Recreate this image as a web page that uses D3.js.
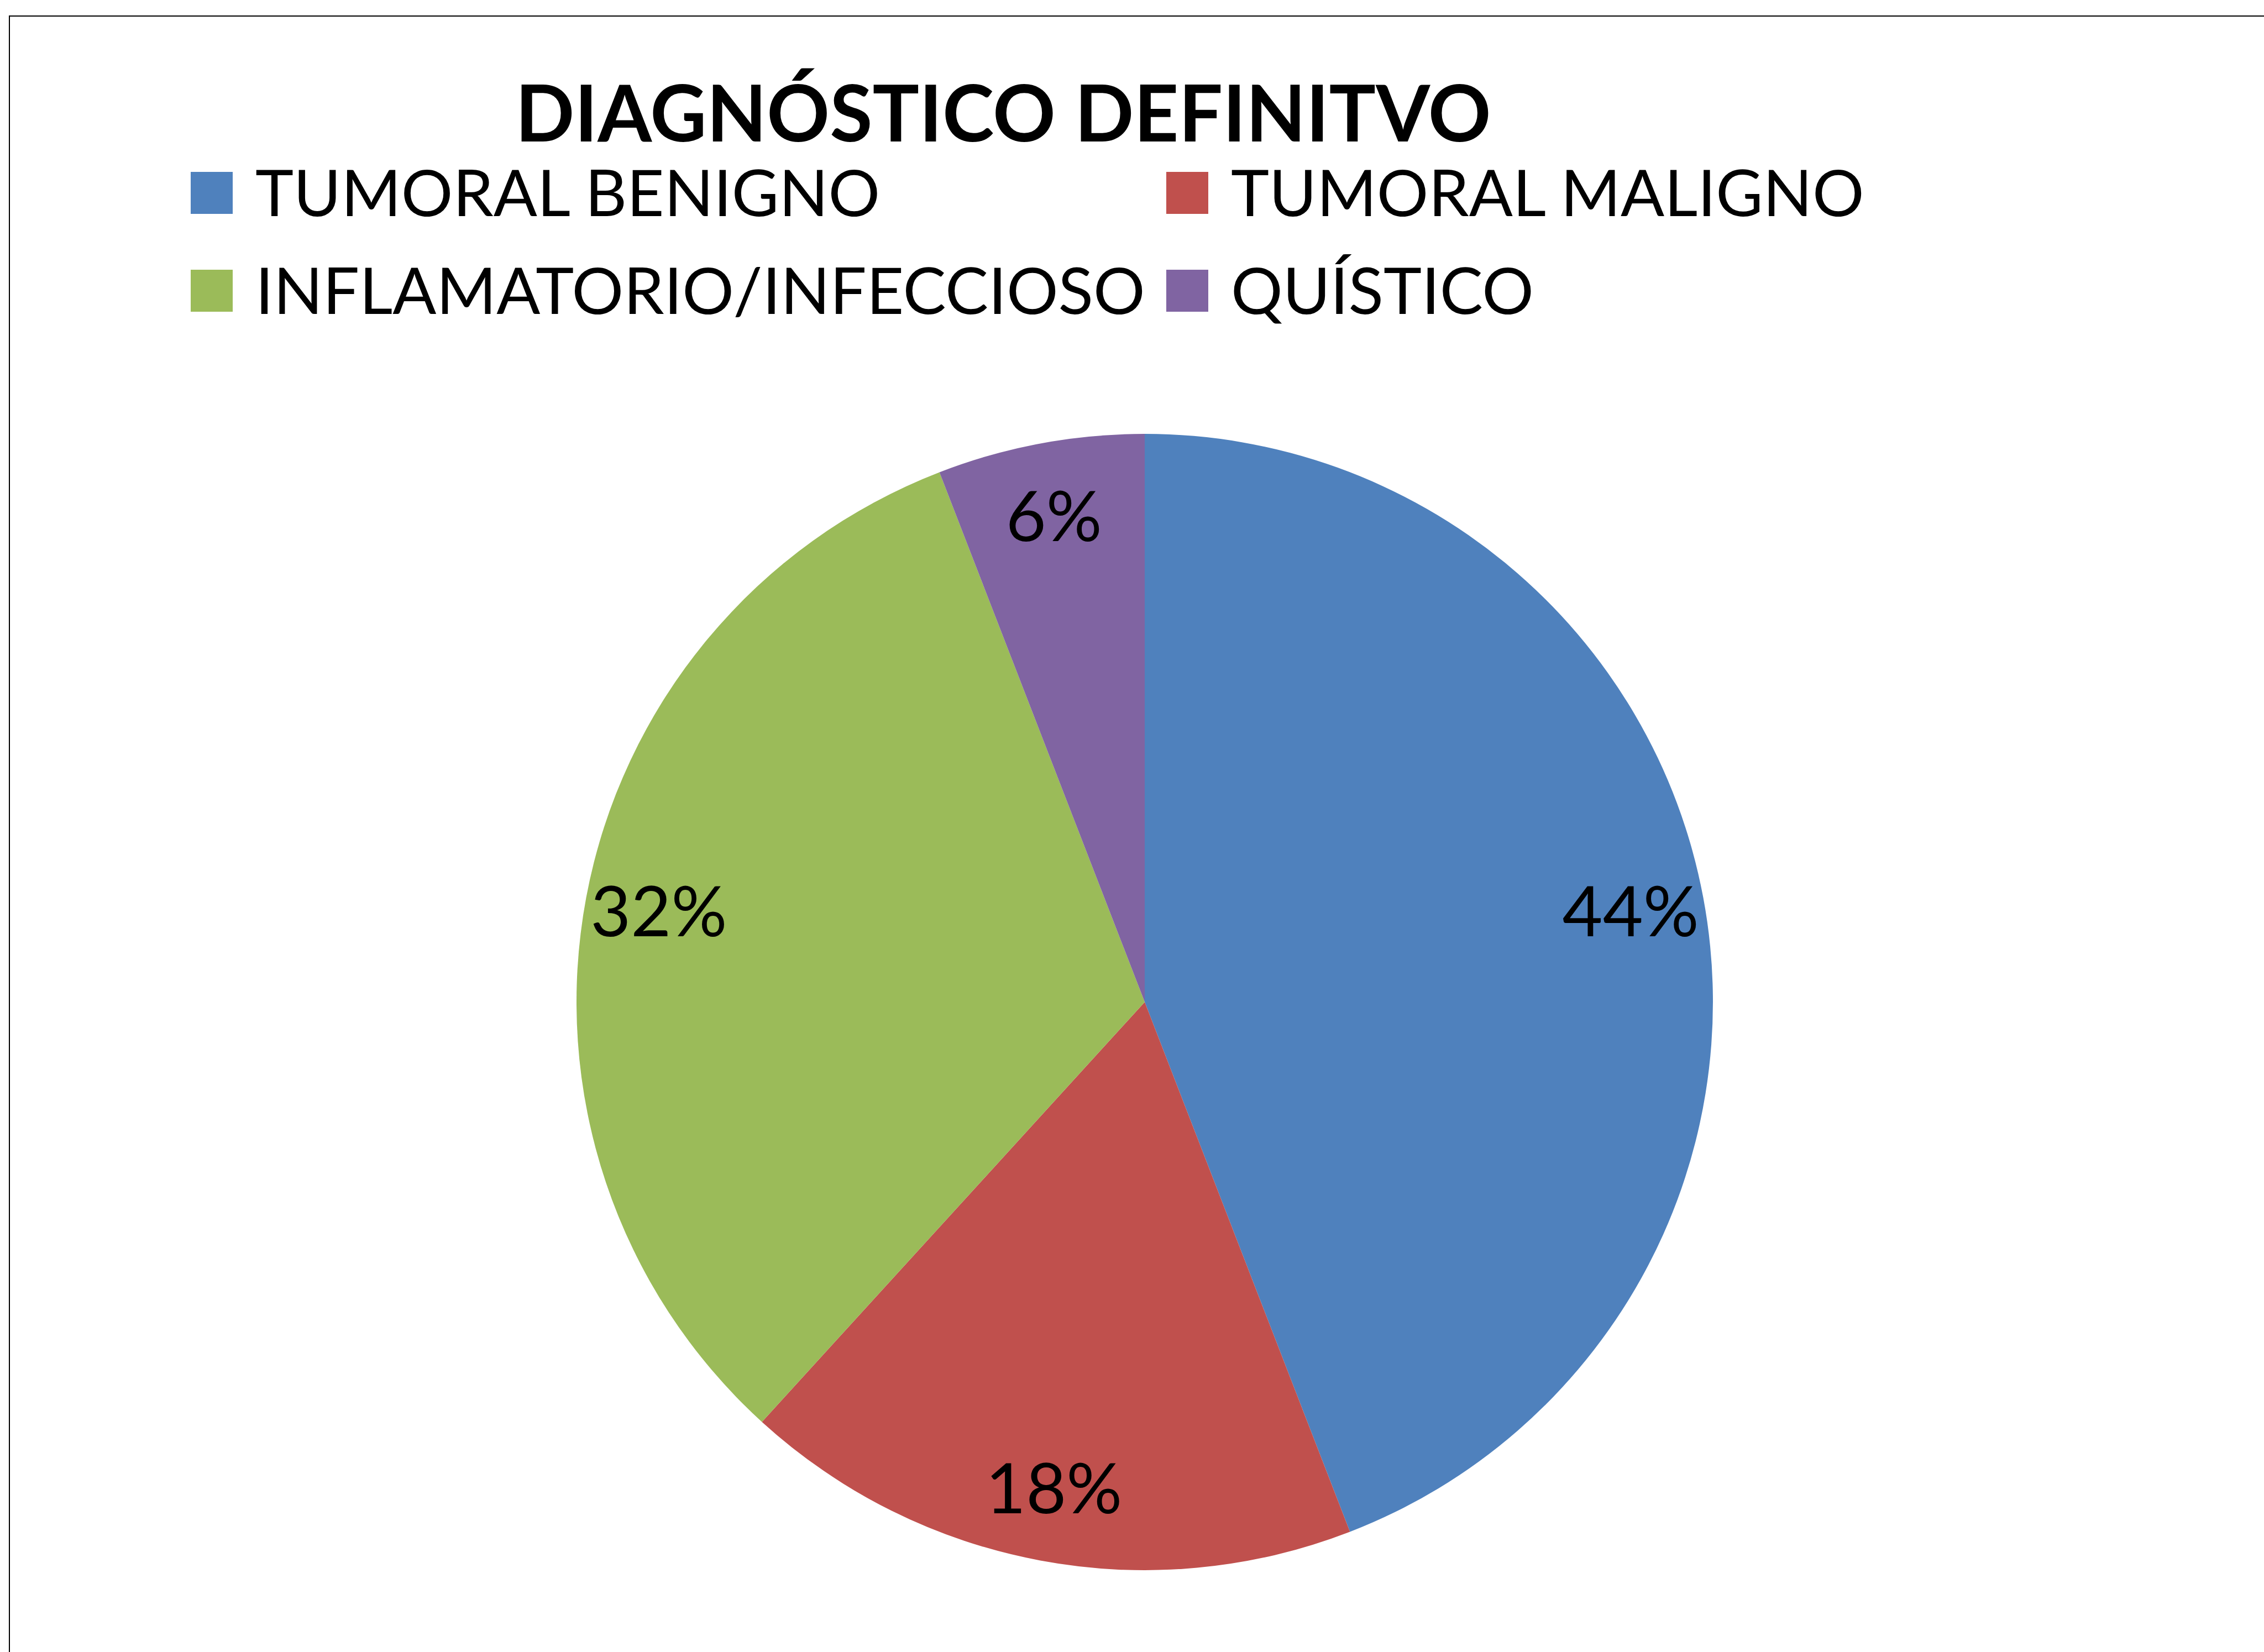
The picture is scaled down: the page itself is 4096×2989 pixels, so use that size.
<!DOCTYPE html>
<html lang="es">
<head>
<meta charset="UTF-8">
<title>Diagnóstico definitivo</title>
<script src="https://d3js.org/d3.v7.min.js"></script>
<style>
  html, body { margin: 0; padding: 0; background: #fff; }
  svg { display: block; }
  text { font-family: Lato, "Open Sans", sans-serif; fill: #000; }
</style>
</head>
<body>
<svg width="4096" height="2989"></svg>
<script>
    // data (counts out of 34 give the printed percentages)
    const categories = ["TUMORAL BENIGNO", "TUMORAL MALIGNO", "INFLAMATORIO/INFECCIOSO", "QUÍSTICO"]
    const values = [15, 6, 11, 2]
    const colors = ["#4F81BD", "#C0504D", "#9BBB59", "#8064A2"]
    const title = "DIAGNÓSTICO DEFINITVO" // spelled as in the original

    let svg = d3.select("svg")
    let width = +svg.attr("width")
    let height = +svg.attr("height")

    // outer frame (runs off the right and bottom edges like the source)
    svg.append("rect")
        .attr("x", 17).attr("y", 29)
        .attr("width", width + 20).attr("height", height + 20)
        .attr("fill", "none")
        .attr("stroke", "#000")
        .attr("stroke-width", 2)

    // title
    svg.append("text")
        .attr("x", 1815).attr("y", 256)
        .attr("text-anchor", "middle")
        .style("font-weight", "bold")
        .style("font-size", "141px")
        .text(title)

    let color = d3.scaleOrdinal().domain(categories).range(colors)

    // legend, two columns
    let legend = svg.append("g")
        .selectAll("g")
        .data(categories)
        .enter()
        .append("g")
        .attr("transform", (d, i) => `translate(${345 + (i % 2) * 1765},${311 + Math.floor(i / 2) * 177})`)

    legend.append("rect")
        .attr("width", 76).attr("height", 76)
        .attr("fill", d => color(d))

    legend.append("text")
        .attr("x", 117).attr("y", 80)
        .style("font-size", "117px")
        .text(d => d)

    // pie
    let cx = 2071, cy = 1813, radius = 1028
    let total = d3.sum(values)
    let pct = d3.format(".0%")

    let pie = d3.pie().sort(null).value(d => d.value)
    let arcs = pie(categories.map((c, i) => ({name: c, value: values[i]})))

    let arc = d3.arc().innerRadius(0).outerRadius(radius)
    let labelArc = d3.arc().innerRadius(radius * 0.87).outerRadius(radius * 0.87)

    let g = svg.append("g").attr("transform", `translate(${cx},${cy})`)

    g.selectAll("path")
        .data(arcs)
        .enter()
        .append("path")
        .attr("d", arc)
        .attr("fill", d => color(d.data.name))

    g.selectAll(".lbl")
        .data(arcs)
        .enter()
        .append("text")
        .attr("class", "lbl")
        .attr("transform", d => `translate(${labelArc.centroid(d)})`)
        .attr("text-anchor", "middle")
        .attr("dy", "0.36em")
        .style("font-size", "126px")
        .text(d => pct(d.data.value / total))
</script>
</body>
</html>
